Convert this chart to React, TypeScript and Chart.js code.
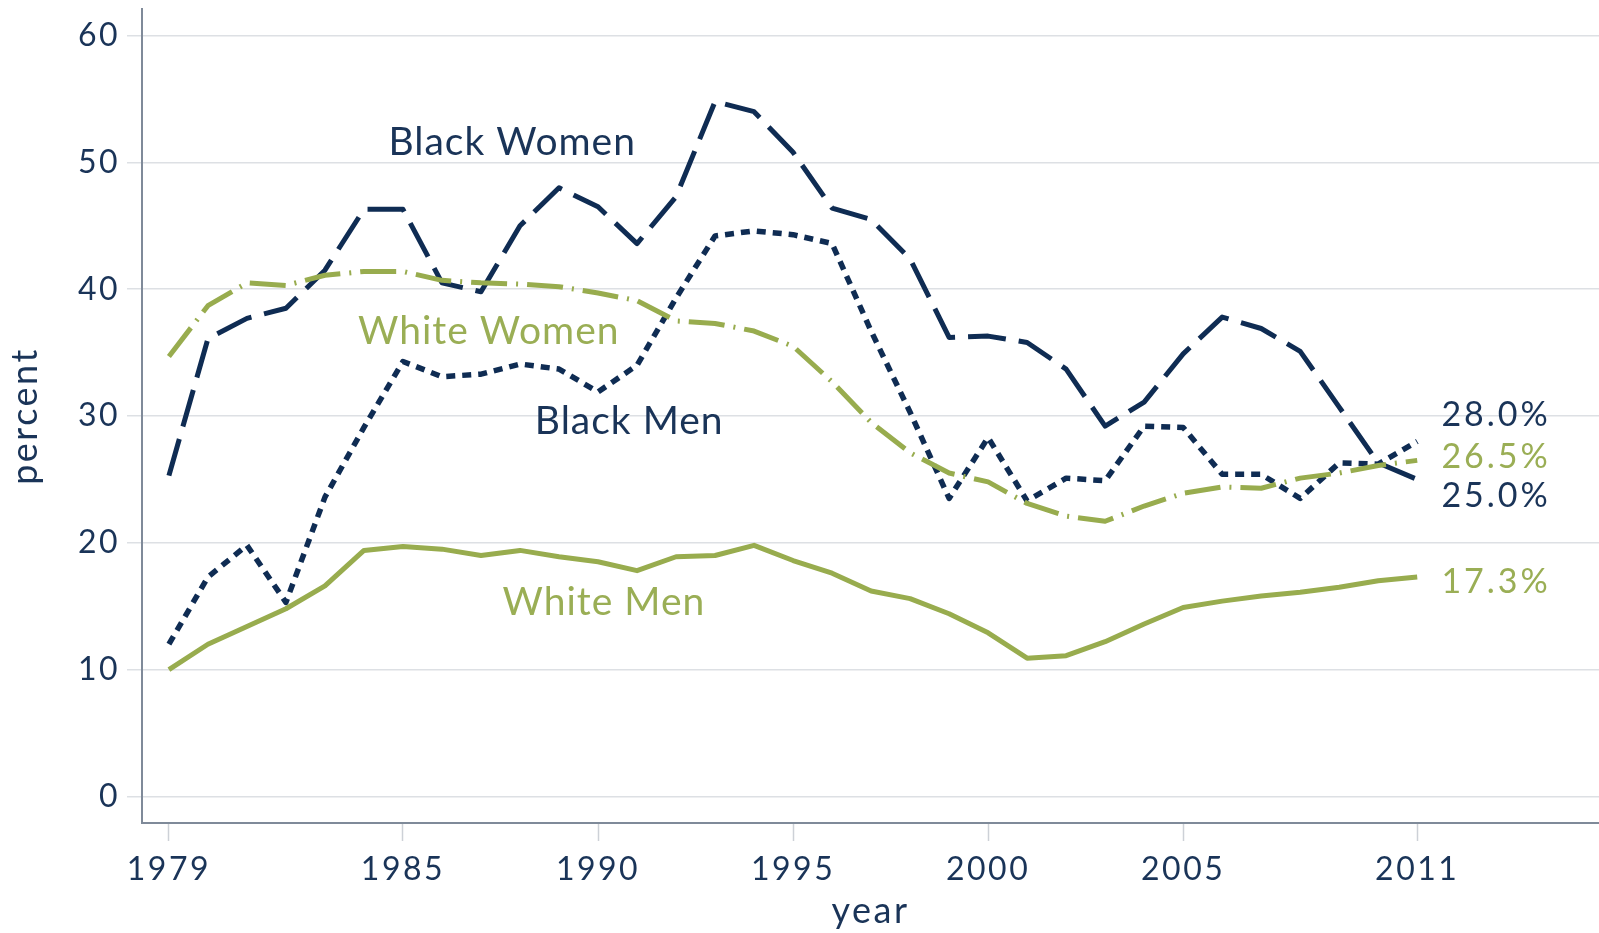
import React, { useEffect, useRef } from 'react';
import { Chart, registerables } from 'chart.js';

Chart.register(...registerables);

// ---- data ----
const years = [
  1979, 1980, 1981, 1982, 1983, 1984, 1985, 1986, 1987, 1988, 1989,
  1990, 1991, 1992, 1993, 1994, 1995, 1996, 1997, 1998, 1999, 2000,
  2001, 2002, 2003, 2004, 2005, 2006, 2007, 2008, 2009, 2010, 2011,
];

const blackWomen = [
  25.3, 36.1, 37.7, 38.5, 41.5, 46.3, 46.3, 40.5, 39.8, 45.0, 48.0,
  46.5, 43.6, 47.3, 54.8, 54.0, 50.8, 46.4, 45.5, 42.4, 36.2, 36.3,
  35.8, 33.7, 29.2, 31.1, 34.9, 37.8, 36.9, 35.1, 30.7, 26.3, 25.0,
];

const whiteWomen = [
  34.7, 38.7, 40.5, 40.3, 41.1, 41.4, 41.4, 40.7, 40.5, 40.4, 40.2,
  39.7, 39.1, 37.5, 37.3, 36.7, 35.5, 32.7, 29.5, 27.1, 25.5, 24.8,
  23.1, 22.1, 21.7, 22.9, 23.9, 24.4, 24.3, 25.1, 25.5, 26.1, 26.5,
];

const blackMen = [
  12.0, 17.3, 19.8, 15.3, 23.6, 29.1, 34.3, 33.1, 33.3, 34.1, 33.7,
  31.9, 34.0, 39.3, 44.2, 44.6, 44.3, 43.6, 36.7, 30.3, 23.5, 28.3,
  23.3, 25.1, 24.9, 29.2, 29.1, 25.4, 25.4, 23.5, 26.3, 26.2, 28.0,
];

const whiteMen = [
  10.0, 12.0, 13.4, 14.8, 16.6, 19.4, 19.7, 19.5, 19.0, 19.4, 18.9,
  18.5, 17.8, 18.9, 19.0, 19.8, 18.6, 17.6, 16.2, 15.6, 14.4, 12.9,
  10.9, 11.1, 12.2, 13.6, 14.9, 15.4, 15.8, 16.1, 16.5, 17.0, 17.3,
];

const seriesNames = ['Black Women', 'White Women', 'Black Men', 'White Men'];
const endLabels = ['28.0%', '26.5%', '25.0%', '17.3%'];
const xTickValues = [1979, 1985, 1990, 1995, 2000, 2005, 2011];
const yTickValues = [0, 10, 20, 30, 40, 50, 60];

// ---- styles ----
const NAVY = '#0f2c53';
const NAVY_TEXT = '#1a3458';
const GREEN = '#98ac4e';
const GREEN_TEXT = '#9aae55';
const GRID = '#dde0e4';
const AXIS = '#7f8a99';
const FONT = 'Lato, "Open Sans", sans-serif';

export default function App() {
  const ref = useRef<HTMLCanvasElement | null>(null);

  useEffect(() => {
    if (!ref.current) return;
    const pts = (vals: number[]) => years.map((x, i) => ({ x, y: vals[i] }));

    const spacingPlugin = {
      id: 'spacing',
      beforeLayout(chart: any) {
        chart.ctx.letterSpacing = '2.5px';
      },
      beforeDraw(chart: any) {
        chart.ctx.letterSpacing = '2.5px';
        const { ctx, width, height } = chart;
        ctx.save();
        ctx.fillStyle = '#ffffff';
        ctx.fillRect(0, 0, width, height);
        ctx.restore();
      },
    };

    // label anchors in data space: [x, y]
    const nameAnchors: [number, number][] = [
      [1987.8, 51.55],
      [1987.2, 36.65],
      [1990.8, 29.55],
      [1990.15, 15.3],
    ];
    const nameColors = [NAVY_TEXT, GREEN_TEXT, NAVY_TEXT, GREEN_TEXT];
    const endAnchors: [number, number][] = [
      [2011.62, 30.05],
      [2011.62, 26.75],
      [2011.62, 23.7],
      [2011.62, 16.9],
    ];
    const endColors = [NAVY_TEXT, GREEN_TEXT, NAVY_TEXT, GREEN_TEXT];

    const labelPlugin = {
      id: 'seriesLabels',
      afterDatasetsDraw(chart: any) {
        const { ctx } = chart;
        const xs = chart.scales.x;
        const ys = chart.scales.y;
        ctx.save();
        ctx.textBaseline = 'middle';
        ctx.textAlign = 'center';
        ctx.letterSpacing = '1px';
        ctx.font = `39px ${FONT}`;
        seriesNames.forEach((name, i) => {
          ctx.fillStyle = nameColors[i];
          ctx.fillText(name, xs.getPixelForValue(nameAnchors[i][0]), ys.getPixelForValue(nameAnchors[i][1]));
        });
        ctx.textAlign = 'left';
        ctx.letterSpacing = '3px';
        ctx.font = `34px ${FONT}`;
        endLabels.forEach((t, i) => {
          ctx.fillStyle = endColors[i];
          ctx.fillText(t, xs.getPixelForValue(endAnchors[i][0]), ys.getPixelForValue(endAnchors[i][1]));
        });
        ctx.restore();
      },
    };

    const chart = new Chart(ref.current, {
      type: 'line',
      data: {
        datasets: [
          {
            label: 'White Men',
            data: pts(whiteMen),
            borderColor: GREEN,
            borderWidth: 5,
            pointRadius: 0,
            tension: 0,
            borderJoinStyle: 'round',
          },
          {
            label: 'White Women',
            data: pts(whiteWomen),
            borderColor: GREEN,
            borderWidth: 5,
            borderDash: [36, 9, 2, 9],
            pointRadius: 0,
            tension: 0,
            borderJoinStyle: 'round',
          },
          {
            label: 'Black Men',
            data: pts(blackMen),
            borderColor: NAVY,
            borderWidth: 5.5,
            borderDash: [9, 7],
            pointRadius: 0,
            tension: 0,
            borderJoinStyle: 'round',
          },
          {
            label: 'Black Women',
            data: pts(blackWomen),
            borderColor: NAVY,
            borderWidth: 5,
            borderDash: [38, 13],
            pointRadius: 0,
            tension: 0,
            borderJoinStyle: 'round',
          },
        ],
      },
      options: {
        animation: false,
        responsive: false,
        events: [],
        layout: { padding: { top: 9, right: 0, left: 0, bottom: 0 } },
        plugins: {
          legend: { display: false },
          tooltip: { enabled: false },
          title: { display: false },
        },
        scales: {
          x: {
            type: 'linear',
            min: 1978.31,
            max: 2015.66,
            afterBuildTicks: (s: any) => {
              s.ticks = xTickValues.map((v) => ({ value: v }));
            },
            afterFit: (s: any) => {
              s.height = 110;
              s.paddingLeft = 0;
              s.paddingRight = 0;
            },
            grid: {
              drawOnChartArea: false,
              drawTicks: true,
              tickLength: 18,
              tickColor: '#cdd1d7',
              tickWidth: 1.5,
            },
            border: { display: true, color: AXIS, width: 2 },
            ticks: {
              color: NAVY_TEXT,
              font: { family: FONT, size: 32 },
              padding: 9,
              maxRotation: 0,
              autoSkip: false,
              callback: (v: any) => String(v),
            },
            title: {
              display: true,
              text: 'year',
              color: NAVY_TEXT,
              font: { family: FONT, size: 36 },
              padding: { top: 0, bottom: 0 },
            },
          },
          y: {
            type: 'linear',
            min: -2.1,
            max: 62.1,
            afterBuildTicks: (s: any) => {
              s.ticks = yTickValues.map((v) => ({ value: v }));
            },
            afterFit: (s: any) => {
              s.width = 142;
              s.paddingTop = 0;
              s.paddingBottom = 0;
            },
            grid: {
              color: GRID,
              lineWidth: 1.5,
              drawTicks: true,
              tickLength: 15,
              tickColor: GRID,
            },
            border: { display: true, color: AXIS, width: 2 },
            ticks: {
              color: NAVY_TEXT,
              font: { family: FONT, size: 32 },
              padding: 7,
              callback: (v: any) => String(v),
            },
            title: {
              display: true,
              text: 'percent',
              color: NAVY_TEXT,
              font: { family: FONT, size: 36 },
              padding: { top: 4, bottom: 0 },
            },
          },
        },
      },
      plugins: [spacingPlugin, labelPlugin],
    } as any);

    return () => chart.destroy();
  }, []);

  return (
    <div
      style={{
        position: 'fixed',
        left: 0,
        top: 0,
        width: 1599,
        height: 933,
        background: '#ffffff',
      }}
    >
      <canvas ref={ref} width={1599} height={933} style={{ display: 'block' }} />
    </div>
  );
}
